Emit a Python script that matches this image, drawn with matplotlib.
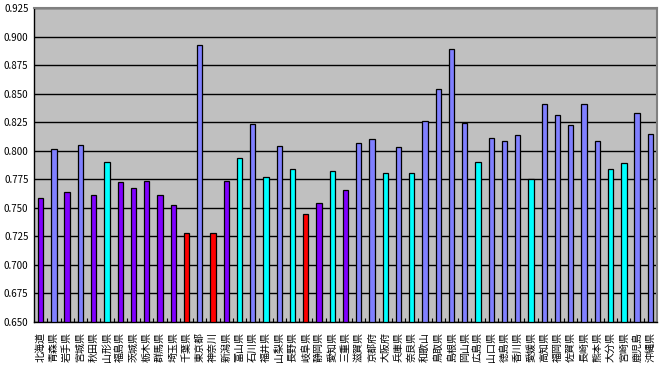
import matplotlib
matplotlib.use('Agg')
import matplotlib.pyplot as plt
from matplotlib.ticker import FormatStrFormatter, FixedLocator

plt.rcParams['font.family'] = ['Noto Sans CJK JP', 'DejaVu Sans']

prefectures = ['北海道', '青森県', '岩手県', '宮城県', '秋田県', '山形県', '福島県', '茨城県',
               '栃木県', '群馬県', '埼玉県', '千葉県', '東京都', '神奈川', '新潟県', '富山県',
               '石川県', '福井県', '山梨県', '長野県', '岐阜県', '静岡県', '愛知県', '三重県',
               '滋賀県', '京都府', '大阪府', '兵庫県', '奈良県', '和歌山', '鳥取県', '島根県',
               '岡山県', '広島県', '山口県', '徳島県', '香川県', '愛媛県', '高知県', '福岡県',
               '佐賀県', '長崎県', '熊本県', '大分県', '宮崎県', '鹿児島', '沖縄県']

values = [0.7586, 0.8016, 0.7639, 0.8051, 0.7613, 0.7902, 0.7727, 0.7674,
          0.7735, 0.7613, 0.7525, 0.7280, 0.8927, 0.7280, 0.7735, 0.7937,
          0.8235, 0.7770, 0.8042, 0.7840, 0.7446, 0.7543, 0.7823, 0.7657,
          0.8068, 0.8103, 0.7805, 0.8033, 0.7805, 0.8261, 0.8541, 0.8892,
          0.8244, 0.7902, 0.8112, 0.8086, 0.8138, 0.7753, 0.8410, 0.8314,
          0.8226, 0.8410, 0.8086, 0.7840, 0.7893, 0.8331, 0.8147]

# b = blue, p = purple, c = cyan, r = red
groups = ['p', 'b', 'p', 'b', 'p', 'c', 'p', 'p',
          'p', 'p', 'p', 'r', 'b', 'r', 'p', 'c',
          'b', 'c', 'b', 'c', 'r', 'p', 'c', 'p',
          'b', 'b', 'c', 'b', 'c', 'b', 'b', 'b',
          'b', 'c', 'b', 'b', 'b', 'c', 'b', 'b',
          'b', 'b', 'b', 'c', 'c', 'b', 'b']

palette = {'b': '#8080FF', 'p': '#8000FF', 'c': '#00FFFF', 'r': '#FF0000'}

fig = plt.figure(figsize=(6.6, 3.69), dpi=100)
ax = fig.add_axes([34 / 660, (369 - 322) / 369, 623 / 660, 314 / 369])
ax.set_facecolor('#C0C0C0')

x = list(range(len(prefectures)))
ax.bar(x, [v - 0.65 for v in values], bottom=0.65, width=0.4,
       color=[palette[g] for g in groups], edgecolor='black', linewidth=0.9, zorder=3)

ax.set_xlim(-0.5, len(prefectures) - 0.5)
ax.set_ylim(0.65, 0.925)
yt = [0.65 + 0.025 * i for i in range(12)]
ax.set_yticks(yt)
ax.yaxis.set_major_formatter(FormatStrFormatter('%.3f'))
ax.yaxis.grid(True, color='black', linewidth=1.0, zorder=1)
ax.tick_params(axis='y', length=0, pad=4, labelsize=7)

ax.set_xticks(x)
ax.set_xticklabels(prefectures, rotation=90, fontsize=7.2)
ax.tick_params(axis='x', which='major', length=0, pad=7)
ax.xaxis.set_minor_locator(FixedLocator([i + 0.5 for i in range(len(prefectures) - 1)]))
ax.tick_params(axis='x', which='minor', direction='in', length=3, width=0.8)

for s in ['top', 'right']:
    ax.spines[s].set_color('#808080')
    ax.spines[s].set_linewidth(1.5)
for s in ['left', 'bottom']:
    ax.spines[s].set_color('black')
    ax.spines[s].set_linewidth(1.0)

fig.savefig('out.png', dpi=100)
